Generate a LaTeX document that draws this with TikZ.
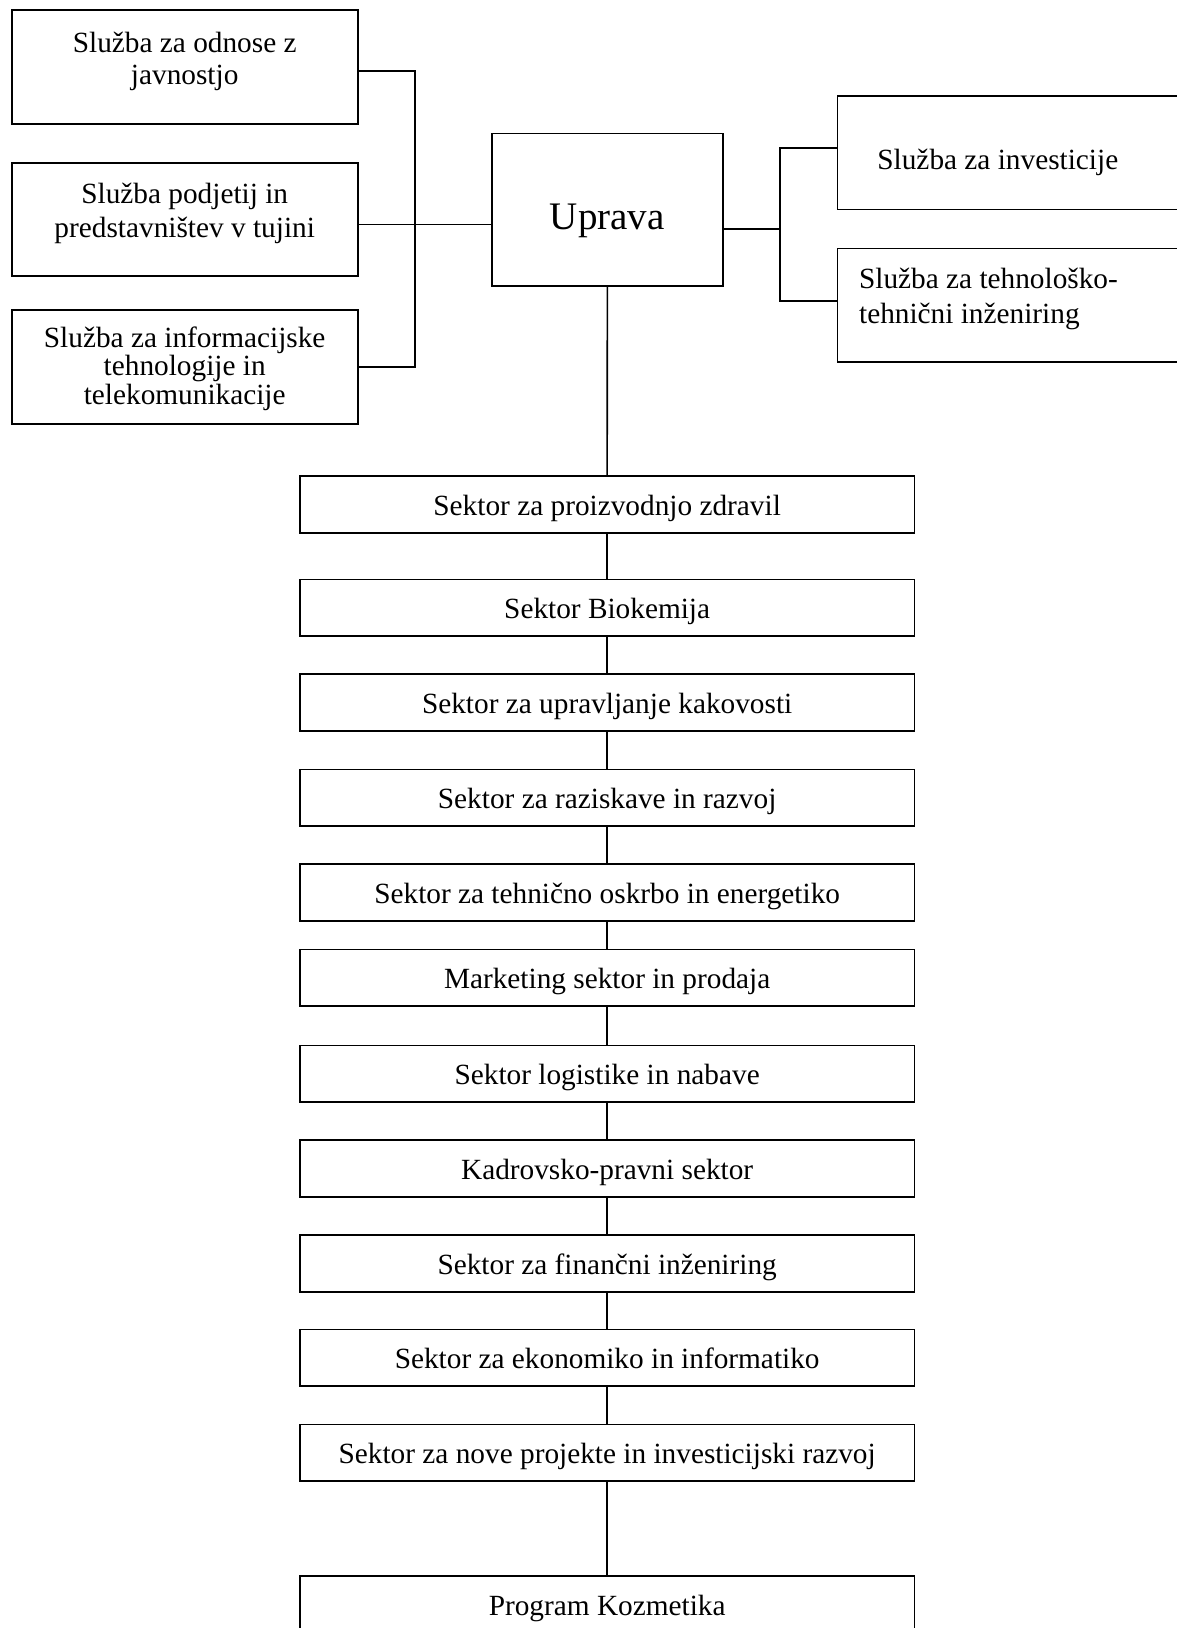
\documentclass[tikz,border=0pt]{standalone}
\usepackage{fontspec}
\setmainfont{Liberation Serif}
\usetikzlibrary{fit}
\begin{document}
\begin{tikzpicture}[x=0.5pt,y=-0.5pt,
  box/.style={draw, line width=0.8pt, rectangle, inner sep=0pt},
  lbl/.style={anchor=base, inner sep=0pt, font=\fontsize{14.65pt}{16pt}\selectfont},
  lblw/.style={lbl, anchor=base west},
  big/.style={anchor=base, inner sep=0pt, font=\fontsize{19.5pt}{22pt}\selectfont},
  link/.style={line width=0.8pt}]
\useasboundingbox (0,0) rectangle (1177,1628);
\clip (0,0) rectangle (1177,1628);

% left staff services
\node[box, fit={(11.7,10) (357.7,124)}] (L1) {};
\node[box, fit={(11.7,163) (357.7,276)}] (L2) {};
\node[box, fit={(11.7,310) (357.7,424)}] (L3) {};
\node[lbl] (L1a) at (184.7,52.7) {Služba za odnose z};
\node[lbl] (L1b) at (184.7,84.7) {javnostjo};
\node[lbl] (L2a) at (184.7,203.7) {Služba podjetij in};
\node[lbl] (L2b) at (184.7,237) {predstavništev v tujini};
\node[lbl] (L3a) at (184.7,347) {Služba za informacijske};
\node[lbl] (L3b) at (184.7,375.3) {tehnologije in};
\node[lbl] (L3c) at (184.7,404) {telekomunikacije};

% management
\node[box, fit={(492,133.3) (722.7,285.7)}] (U) {};
\node[big] (Ut) at (607.3,229.5) {Uprava};

% right staff services
\node[box, fit={(837.3,95.7) (1240,209.3)}] (R1) {};
\node[box, fit={(837.3,248.3) (1240,361.7)}] (R2) {};
\node[lblw] (R1a) at (877,169) {Služba za investicije};
\node[lblw] (R2a) at (858.7,288.7) {Služba za tehnološko-};
\node[lblw] (R2b) at (858.7,323.7) {tehnični inženiring};

% sectors
\foreach \n/\t/\b/\txt in {
  S1/476/532.7/Sektor za proizvodnjo zdravil,
  S2/579.3/635.7/Sektor Biokemija,
  S3/674/730.7/Sektor za upravljanje kakovosti,
  S4/769.3/826/Sektor za raziskave in razvoj,
  S5/864/920.7/Sektor za tehnično oskrbo in energetiko,
  S6/949.3/1006/Marketing sektor in prodaja,
  S7/1045.3/1102/Sektor logistike in nabave,
  S8/1140/1196.7/Kadrovsko-pravni sektor,
  S9/1235/1291.7/Sektor za finančni inženiring,
  S10/1329.3/1386/Sektor za ekonomiko in informatiko,
  S11/1424.3/1480.7/Sektor za nove projekte in investicijski razvoj,
  K/1576/1660/Program Kozmetika}{
  \node[box, fit={(300,\t) (914.3,\b)}] (\n) {};
  \path (\n.north) ++(0,40) node[lbl] (\n t) {\txt};
}

% left bus
\coordinate (lbT) at (415,71);
\coordinate (lbB) at (415,367);
\draw[link] (L1.east |- lbT) -- (lbT) -- (lbB) -- (L3.east |- lbB);
\draw[link] (L2.east |- 0,224.5) -- (U.west |- 0,224.5);

% right bus
\coordinate (rbT) at (780,147.7);
\coordinate (rbM) at (780,228.7);
\coordinate (rbB) at (780,300.7);
\draw[link] (U.east |- rbM) -- (rbM);
\draw[link] (R1.west |- rbT) -- (rbT) -- (rbB) -- (R2.west |- rbB);

% main trunk
\draw[link] (U.south) -- (S1.north);
\draw[link] (S1.south) -- (S2.north);
\draw[link] (S2.south) -- (S3.north);
\draw[link] (S3.south) -- (S4.north);
\draw[link] (S4.south) -- (S5.north);
\draw[link] (S5.south) -- (S6.north);
\draw[link] (S6.south) -- (S7.north);
\draw[link] (S7.south) -- (S8.north);
\draw[link] (S8.south) -- (S9.north);
\draw[link] (S9.south) -- (S10.north);
\draw[link] (S10.south) -- (S11.north);
\draw[link] (S11.south) -- (K.north);
\end{tikzpicture}
\end{document}
